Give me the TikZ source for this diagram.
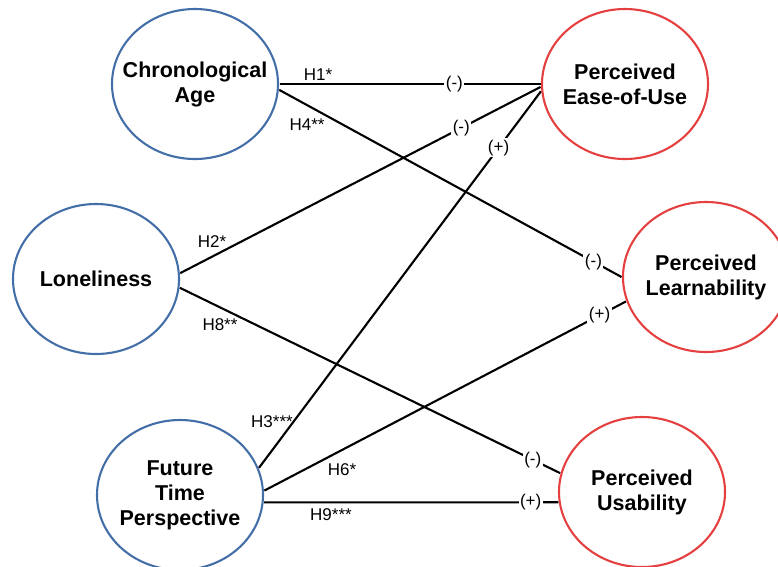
\documentclass[tikz,border=0pt]{standalone}
\usepackage{fontspec}
\setmainfont{Liberation Sans}
\usetikzlibrary{shapes.geometric}
\definecolor{indblue}{RGB}{68,110,168}
\definecolor{depred}{RGB}{228,64,64}

\begin{document}
\begin{tikzpicture}[
    x=1pt, y=-1pt,
    construct/.style={
        ellipse,
        line width=2.1pt,
        minimum width=166pt,
        minimum height=150pt,
        inner xsep=-20pt,
        inner ysep=0pt,
        outer sep=1.5pt,
        align=center,
        font=\fontsize{21.5}{25}\selectfont\bfseries
    },
    indep/.style={construct, draw=indblue},
    dep/.style={construct, draw=depred},
    link/.style={line width=2.1pt, black},
    sign/.style={fill=white, inner sep=1.5pt, font=\fontsize{17}{20}\selectfont},
    hyp/.style={inner sep=0pt, font=\fontsize{17}{20}\selectfont}
]
\useasboundingbox (0,0) rectangle (778,566);

% independent constructs
\node[indep] (age) at (195,84) {Chronological\\Age};
\node[indep] (lonely) at (96,279) {Loneliness};
\node[indep] (ftp) at (180,495) {Future\\Time\\Perspective};

% dependent constructs
\node[dep] (peou) at (625,84) {Perceived\\Ease-of-Use};
\node[dep] (plearn) at (706,277) {Perceived\\Learnability};
\node[dep] (puse) at (642,492) {Perceived\\Usability};

% paths
\draw[link] (age.0) -- node[sign, pos=0.67] (s1) {(-)} (peou.180);
\draw[link] (age.-4) -- node[sign, pos=0.918] (s4) {(-)} (plearn.180);
\draw[link] (lonely.4) -- node[sign, pos=0.78] (s2) {(-)} (peou.182);
\draw[link] (lonely.-6) -- node[sign, pos=0.928] (s8) {(-)} (puse.167);
\draw[link] (ftp.19) -- node[sign, pos=0.85] (s3) {(+)} (peou.185);
\draw[link] (ftp.3) -- node[sign, pos=0.927] (s6) {(+)} (plearn.197);
\draw[link] (ftp.-5) -- node[sign, pos=0.906] (s9) {(+)} (puse.187);

% hypothesis labels
\node[hyp] (h1) at (318,75) {H1*};
\node[hyp] (h4) at (307,125) {H4**};
\node[hyp] (h2) at (212,242) {H2*};
\node[hyp] (h8) at (220,325) {H8**};
\node[hyp] (h3) at (272,422) {H3***};
\node[hyp] (h6) at (342,470) {H6*};
\node[hyp] (h9) at (331,515) {H9***};

\end{tikzpicture}
\end{document}
